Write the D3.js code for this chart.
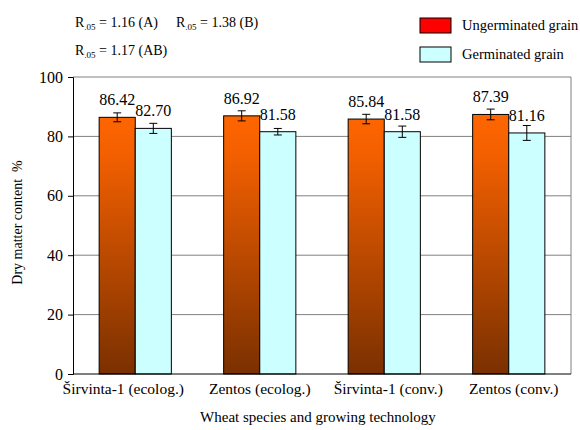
<!DOCTYPE html>
<html><head><meta charset="utf-8">
<script src="https://cdn.jsdelivr.net/npm/d3@7"></script>
<style>body{margin:0;background:#fff}svg{display:block;font-family:"Liberation Serif","Times New Roman",serif}</style>
</head><body><svg id="c" width="580" height="430"></svg>
<script>
const categories = ["Širvinta-1 (ecolog.)", "Zentos (ecolog.)", "Širvinta-1 (conv.)", "Zentos (conv.)"];
const seriesNames = ["Ungerminated grain", "Germinated grain"];
const ungerminated = [86.42, 86.92, 85.84, 87.39];
const germinated = [82.70, 81.58, 81.58, 81.16];
const errUngerminated = [1.5, 1.7, 1.6, 1.8];
const errGerminated = [1.7, 1.1, 1.9, 2.5];
const yTicks = [0, 20, 40, 60, 80, 100];
const lsd = [["1.16 (A)", "1.38 (B)"], ["1.17 (AB)"]];

const FONT = "Liberation Serif";
const labelShift = [-12, 0, 4, 5];

const svg = d3.select("#c");
const m = {l: 73, r: 9, t: 77, b: 56};
const W = 580, H = 430;
const x = d3.scaleBand().domain(categories).range([m.l, W - m.r]).paddingInner(0.42).paddingOuter(0.21);
const xs = d3.scaleBand().domain([0, 1]).range([0, x.bandwidth()]);
const y = d3.scaleLinear().domain([0, 100]).range([H - m.b, m.t]);

const defs = svg.append("defs");
const g = defs.append("linearGradient").attr("id", "og")
  .attr("gradientUnits", "userSpaceOnUse").attr("x1", 0).attr("x2", 0).attr("y1", y(88)).attr("y2", y(0));
g.append("stop").attr("offset", "0").attr("stop-color", "#ff6600");
g.append("stop").attr("offset", "0.15").attr("stop-color", "#f46000");
g.append("stop").attr("offset", "1").attr("stop-color", "#7a3000");

// gridlines
svg.append("g").selectAll("line").data(yTicks.filter(d => d > 0)).join("line")
  .attr("x1", m.l).attr("x2", W - m.r).attr("y1", d => y(d)).attr("y2", d => y(d))
  .attr("stroke", "#808080").attr("stroke-width", 1);
// right border
svg.append("line").attr("x1", W - m.r).attr("x2", W - m.r).attr("y1", y(100)).attr("y2", y(0)).attr("stroke", "#808080");

// y axis
const ya = svg.append("g").attr("transform", `translate(${m.l},0)`)
  .call(d3.axisLeft(y).tickValues(yTicks).tickSize(5).tickPadding(5));
ya.select(".domain").attr("stroke", "#000");
ya.selectAll(".tick line").attr("stroke", "#000");
ya.selectAll("text").attr("font-size", 16).attr("font-family", FONT).attr("fill", "#000");

// bars
const data = categories.map((c, i) => ({c, v: [ungerminated[i], germinated[i]], e: [errUngerminated[i], errGerminated[i]]}));
const grp = svg.append("g").selectAll("g").data(data).join("g").attr("transform", d => `translate(${x(d.c)},0)`);
grp.selectAll("rect").data(d => d.v.map((v, k) => ({v, k}))).join("rect")
  .attr("x", d => xs(d.k)).attr("width", xs.bandwidth())
  .attr("y", d => y(d.v)).attr("height", d => y(0) - y(d.v))
  .attr("fill", d => d.k === 0 ? "url(#og)" : "#ccffff")
  .attr("stroke", "#000").attr("stroke-width", 1);
// error bars
const cx = d => xs(d.k) + xs.bandwidth() / 2;
const eb = grp.selectAll("g.eb").data(d => d.v.map((v, k) => ({v, k, e: d.e[k]}))).join("g").attr("class", "eb");
eb.append("line").attr("x1", cx).attr("x2", cx)
  .attr("y1", d => y(d.v + d.e)).attr("y2", d => y(d.v - d.e)).attr("stroke", "#000");
eb.append("line").attr("x1", d => cx(d) - 4).attr("x2", d => cx(d) + 4)
  .attr("y1", d => y(d.v + d.e)).attr("y2", d => y(d.v + d.e)).attr("stroke", "#000");
eb.append("line").attr("x1", d => cx(d) - 4).attr("x2", d => cx(d) + 4)
  .attr("y1", d => y(d.v - d.e)).attr("y2", d => y(d.v - d.e)).attr("stroke", "#000");
// value labels
grp.selectAll("text.val").data(d => d.v.map((v, k) => ({v, k}))).join("text").attr("class", "val")
  .attr("x", cx).attr("y", d => y(d.v) - 12)
  .attr("text-anchor", "middle").attr("font-size", 16).text(d => d.v.toFixed(2));

// x axis
const xa = svg.append("g").attr("transform", `translate(0,${y(0)})`).call(d3.axisBottom(x).tickSize(0).tickPadding(9));
xa.select(".domain").attr("stroke", "#000").attr("d", `M${m.l},0H${W - m.r}`);
xa.selectAll("text").attr("font-size", 15.5).attr("font-family", FONT).attr("fill", "#000")
  .attr("dx", (d, i) => labelShift[i]);

// axis titles
svg.append("text").attr("x", 318).attr("y", 422).attr("text-anchor", "middle").attr("font-size", 15)
  .text("Wheat species and growing technology");
svg.append("text").attr("transform", `translate(22,${(y(0) + y(100)) / 2 - 3}) rotate(-90)`).attr("text-anchor", "middle")
  .attr("font-size", 14).attr("xml:space", "preserve").text("Dry matter content  %");

// R.05 annotations
function rText(xp, yp, val) {
  const t = svg.append("text").attr("x", xp).attr("y", yp).attr("font-size", 14);
  t.append("tspan").text("R");
  t.append("tspan").attr("font-size", 9).attr("dy", 3).text(".05");
  t.append("tspan").attr("dy", -3).text(" = " + val);
}
rText(75, 27, lsd[0][0]);
rText(176, 27, lsd[0][1]);
rText(75, 55, lsd[1][0]);

// legend
const lg = svg.append("g").selectAll("g").data(seriesNames).join("g").attr("transform", (d, i) => `translate(420,${18 + i * 29})`);
lg.append("rect").attr("width", 31).attr("height", 15).attr("fill", (d, i) => i === 0 ? "#ff0000" : "#ccffff").attr("stroke", "#000");
lg.append("text").attr("x", 42).attr("y", 12).attr("font-size", 14.5).text(d => d);
</script></body></html>
